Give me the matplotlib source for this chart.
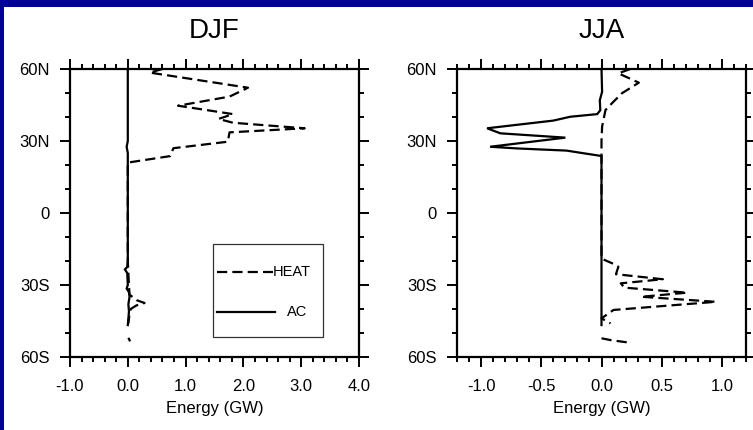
import matplotlib
matplotlib.use('Agg')
import matplotlib.pyplot as plt
import numpy as np
from matplotlib.patches import Rectangle
from matplotlib.lines import Line2D
from matplotlib.ticker import MultipleLocator

plt.rcParams['font.family'] = ['Liberation Sans', 'DejaVu Sans']
plt.rcParams['axes.unicode_minus'] = False

nan = np.nan

# ---------------- data ----------------
# DJF
djf_heat_lat = [60, 58.5, 52.2, 48.5, 44.7, 41.2, 39.2, 37.6, 35.3, 33.6, 29.7, 27.0, 23.7, 21.0,
                0, -20, -30, -34, -36.3, -37.5, -38.5, -40, -42, -44, -46, -49, -52, -53.5]
djf_heat = [0.60, 0.38, 2.08, 1.76, 0.87, 1.82, 1.57, 1.82, 3.06, 1.76, 1.73, 0.79, 0.73, 0.0,
            0.0, 0.0, 0.02, 0.03, 0.15, 0.29, 0.15, 0.05, 0.03, 0.02, 0.01, nan, 0.01, 0.04]
djf_ac_lat = [60, 30, 27.6, 25, 20, -20, -22.5, -23.5, -25, -30, -31.5, -33, -35, -38, -41, -44, -46.7]
djf_ac = [0.0, 0.0, -0.02, 0.0, 0.0, 0.0, -0.01, -0.05, -0.01, 0.0, -0.02, 0.02, 0.03, 0.01, 0.02, 0.01, 0.0]

# JJA
jja_heat_lat = [60, 58.2, 54.3, 49.9, 46.4, 42.9, 36, 30, 0, -19, -21, -22.4, -25.5, -27.6, -29.3,
                -31.1, -33.2, -34.9, -37.0, -40.4, -43.9, -46, -49, -52.2, -53, -54]
jja_heat = [0.24, 0.14, 0.31, 0.17, 0.10, 0.033, 0.005, 0.0, 0.0, 0.0, 0.09, 0.14, 0.12, 0.51, 0.16,
            0.19, 0.71, 0.33, 0.95, 0.10, 0.0, 0.075, nan, 0.0, 0.08, 0.23]
jja_ac_lat = [60, 50.5, 47, 42.8, 41.2, 40.1, 38.5, 37.4, 35.3, 33.2, 31.4, 27.6, 26.9, 26.0, 24.9,
              23.75, 0, -46.7]
jja_ac = [0.0, 0.005, -0.014, -0.01, -0.036, -0.26, -0.40, -0.59, -0.95, -0.84, -0.30, -0.925,
          -0.70, -0.29, -0.15, 0.0, 0.0, 0.0]

panels = ['DJF', 'JJA']
xlims = [(-1.0, 4.0), (-1.2, 1.2)]
xticks = [[-1.0, 0.0, 1.0, 2.0, 3.0, 4.0], [-1.0, -0.5, 0.0, 0.5, 1.0]]
xminor = [0.2, 0.1]
yticks = [-60, -30, 0, 30, 60]
ylabels = ['60S', '30S', '0', '30N', '60N']
xlabel = 'Energy (GW)'
legend_labels = ['HEAT', 'AC']

# ---------------- figure ----------------
W, H = 753, 430
fig = plt.figure(figsize=(W / 100, H / 100), dpi=100, facecolor='#000099')
fig.add_artist(Rectangle((3.5 / W, 0), 1, (H - 7) / H, transform=fig.transFigure,
                         facecolor='white', edgecolor='none', zorder=0))

axl = fig.add_axes([70 / W, (H - 357) / H, 289 / W, 288 / H])
axr = fig.add_axes([457 / W, (H - 357) / H, 289 / W, 288 / H])

LW = 1.6
dash = (4.6, 2.3)

data = [(djf_heat_lat, djf_heat, djf_ac_lat, djf_ac), (jja_heat_lat, jja_heat, jja_ac_lat, jja_ac)]

for i, ax in enumerate([axl, axr]):
    hl, hv, al, av = data[i]
    ax.plot(av, al, color='black', lw=LW, solid_joinstyle='miter')
    ax.plot(hv, hl, color='black', lw=LW, dashes=dash)
    ax.set_xlim(*xlims[i])
    ax.set_ylim(-60, 60)
    ax.set_xticks(xticks[i])
    ax.set_xticklabels(['%.1f' % v for v in xticks[i]])
    ax.xaxis.set_minor_locator(MultipleLocator(xminor[i]))
    ax.set_yticks(yticks)
    ax.set_yticklabels(ylabels)
    ax.yaxis.set_minor_locator(MultipleLocator(10))
    ax.tick_params(which='both', direction='out', top=True, right=True, width=1.4,
                   labelsize=12, colors='black')
    ax.tick_params(which='major', length=7)
    ax.tick_params(which='minor', length=3.5)
    ax.tick_params(axis='x', pad=9)
    ax.tick_params(axis='y', pad=7.5)
    for s in ax.spines.values():
        s.set_linewidth(1.6)
    ax.set_xlabel(xlabel, fontsize=12, labelpad=5)
    ax.text(0.5, 1 + 31 / 288, panels[i], transform=ax.transAxes, ha='center',
            va='baseline', fontsize=20)

# legend (DJF panel)
axl.add_patch(Rectangle((0.494, 0.069), 0.38, 0.323, transform=axl.transAxes,
                        facecolor='white', edgecolor='#333333', lw=0.9, zorder=5))
axl.add_line(Line2D([0.508, 0.703], [0.296, 0.296], transform=axl.transAxes, color='black',
                    lw=LW, dashes=dash, zorder=6))
axl.text(0.703, 0.296, legend_labels[0], transform=axl.transAxes, ha='left', va='center',
         fontsize=10.5, zorder=6)
axl.add_line(Line2D([0.508, 0.709], [0.157, 0.157], transform=axl.transAxes, color='black',
                    lw=LW, zorder=6))
axl.text(0.75, 0.157, legend_labels[1], transform=axl.transAxes, ha='left', va='center',
         fontsize=10.5, zorder=6)

fig.savefig('out.png', dpi=100, facecolor=fig.get_facecolor())
